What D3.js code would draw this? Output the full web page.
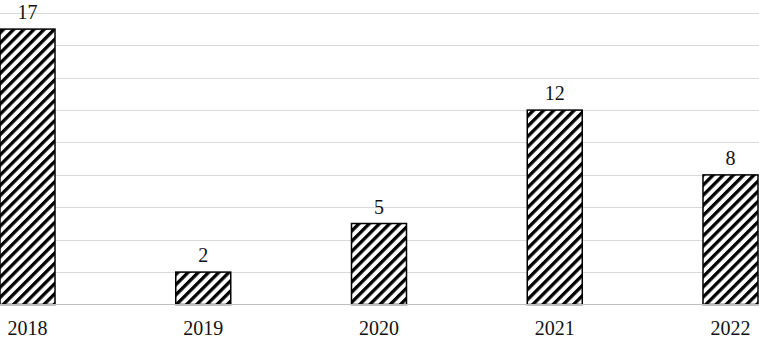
<!DOCTYPE html>
<html>
<head>
<meta charset="utf-8">
<script src="https://cdn.jsdelivr.net/npm/d3@7"></script>
<style>
  html, body { margin: 0; padding: 0; background: #fff; }
  svg { display: block; }
  text { font-family: "Liberation Serif", "Times New Roman", serif; fill: #111; }
</style>
</head>
<body>
<div id="chart"></div>
<script>
const years = ['2018', '2019', '2020', '2021', '2022'];
const counts = [17, 2, 5, 12, 8];
const yTicks = [0, 2, 4, 6, 8, 10, 12, 14, 16, 18];

const width = 759, height = 338;
const barWidth = 55;
const hatchGap = 7.2;

const svg = d3.select('#chart')
  .append('svg')
  .attr('width', width)
  .attr('height', height);

const defs = svg.append('defs');
defs.append('pattern')
  .attr('id', 'hatch')
  .attr('patternUnits', 'userSpaceOnUse')
  .attr('width', hatchGap)
  .attr('height', hatchGap)
  .attr('patternTransform', 'rotate(45)')
  .call(p => {
    p.append('rect').attr('width', hatchGap).attr('height', hatchGap).attr('fill', '#fff');
    p.append('rect')
      .attr('x', 0).attr('y', 0)
      .attr('width', 3.3).attr('height', hatchGap)
      .attr('fill', '#000');
  });

const x = d3.scalePoint()
  .domain(years)
  .range([27.5, 730.5]);

const y = d3.scaleLinear()
  .domain([0, 18])
  .range([304.5, 12.9]);

// gridlines
svg.append('g')
  .selectAll('line')
  .data(yTicks.slice(1))
  .enter()
  .append('line')
  .attr('x1', 0)
  .attr('x2', width)
  .attr('y1', d => Math.round(y(d)) + 0.5)
  .attr('y2', d => Math.round(y(d)) + 0.5)
  .attr('stroke', '#d9d9d9')
  .attr('stroke-width', 1.2);

// bars
svg.append('g')
  .selectAll('rect')
  .data(years)
  .enter()
  .append('rect')
  .attr('x', d => x(d) - barWidth / 2)
  .attr('y', (d, i) => y(counts[i]))
  .attr('width', barWidth)
  .attr('height', (d, i) => y(0) - y(counts[i]))
  .attr('fill', 'url(#hatch)')
  .attr('stroke', '#000')
  .attr('stroke-width', 1.5);

// baseline
svg.append('line')
  .attr('x1', 0)
  .attr('x2', width)
  .attr('y1', y(0))
  .attr('y2', y(0))
  .attr('stroke', '#bfbfbf')
  .attr('stroke-width', 1.2);

// value labels
svg.append('g')
  .selectAll('text')
  .data(years)
  .enter()
  .append('text')
  .attr('x', d => x(d))
  .attr('y', (d, i) => y(counts[i]) - 10)
  .attr('text-anchor', 'middle')
  .attr('font-size', '20px')
  .text((d, i) => counts[i]);

// x axis labels
svg.append('g')
  .selectAll('text')
  .data(years)
  .enter()
  .append('text')
  .attr('x', d => x(d))
  .attr('y', 335)
  .attr('text-anchor', 'middle')
  .attr('font-size', '20px')
  .text(d => d);
</script>
</body>
</html>
